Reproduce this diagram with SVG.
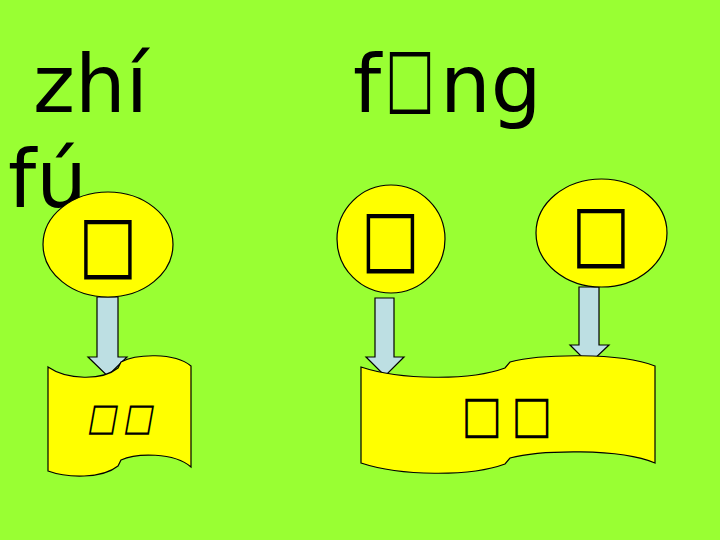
<svg xmlns="http://www.w3.org/2000/svg" width="720" height="540" viewBox="0 0 720 540">
<style>
.bg{fill:#99FF33}
.node{fill:#FFFF00;stroke:#000;stroke-width:1.2}
.arrow{fill:#BDDFE3;stroke:#000;stroke-width:1.2}
.py{font-family:"DejaVu Sans",sans-serif;font-size:80px;fill:#000}
.box{font-family:"DejaVu Sans",sans-serif;fill:#000;text-anchor:middle}
</style>
<rect class="bg" width="720" height="540"/>
<g id="pinyin">
<text class="py" x="33" y="112">zhí</text>
<text class="py" x="8" y="207">fú</text>
<text class="py" x="353" y="112">f<tspan x="385" y="104" style="font-size:81px" textLength="50" lengthAdjust="spacingAndGlyphs">□</tspan><tspan x="440" y="112">ng</tspan></text>
</g>
<g id="connectors">
<polygon class="arrow" points="97,297 118,297 118,357 127,357 107.5,376 88,357 97,357"/>
<polygon class="arrow" points="375,298 394,298 394,357 404,357 385,376 366,357 375,357"/>
<polygon class="arrow" points="579,287 599,287 599,345 609,345 589,364 570,345 579,345"/>
</g>
<g id="node-c1">
<ellipse class="node" cx="108" cy="244.5" rx="65" ry="52.5"/>
<text class="box" transform="translate(108,270.4) scale(0.8,1)" style="font-size:78px">□</text>
</g>
<g id="node-c2">
<ellipse class="node" cx="391" cy="239" rx="54" ry="54"/>
<text class="box" transform="translate(390.5,264.4) scale(0.8,1)" style="font-size:78px">□</text>
</g>
<g id="node-c3">
<ellipse class="node" cx="601.5" cy="233" rx="65.5" ry="54"/>
<text class="box" transform="translate(601,259.4) scale(0.8,1)" style="font-size:78px">□</text>
</g>
<g id="node-b1">
<path class="node" d="M48,367 C67,380 102,381 118,368 L121,362 C136,354 174,352 191,366 L191,467 C174,452 136,453 121,460 L118,466 C102,479 67,478 48,471 Z"/>
<text class="box" transform="translate(101.6,429.8) skewX(-10) scale(0.83,1)" style="font-size:38px">□</text>
<text class="box" transform="translate(137.6,429.8) skewX(-10) scale(0.83,1)" style="font-size:38px">□</text>
</g>
<g id="node-b2">
<path class="node" d="M361,367 C400,380 470,381 505,368 L510,362 C540,354 620,352 655,366 L655,463 C620,448 540,450 510,458 L505,464 C470,477 400,476 361,463 Z"/>
<text class="box" transform="translate(481.5,432.3) scale(0.825,1)" style="font-size:52px">□</text>
<text class="box" transform="translate(531.5,432.3) scale(0.825,1)" style="font-size:52px">□</text>
</g>
</svg>
